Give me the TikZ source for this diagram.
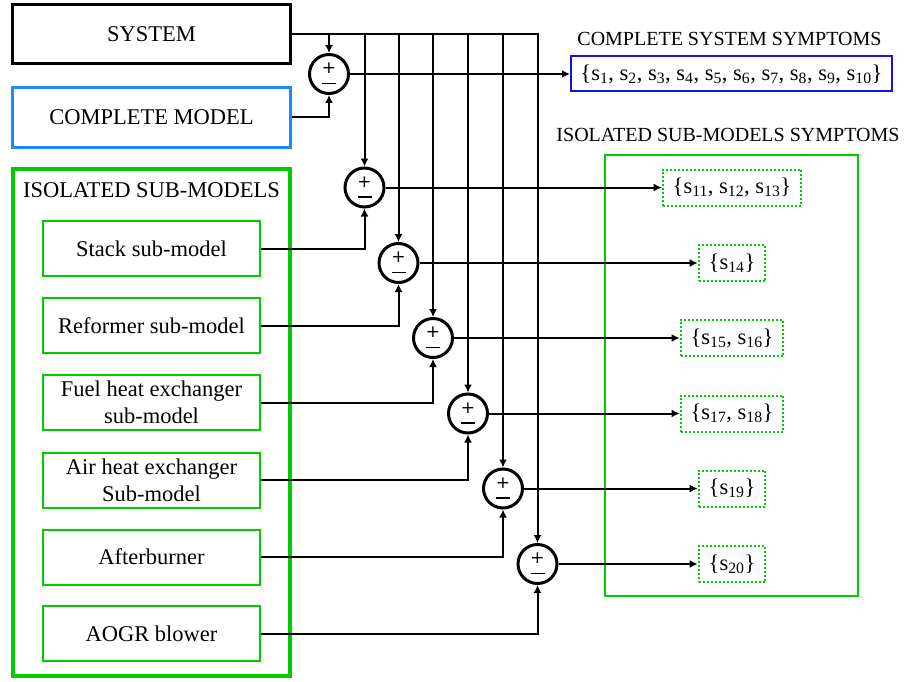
\documentclass[tikz,border=0pt]{standalone}
\usepackage{fontspec}
\setmainfont{Liberation Serif}
\newfontfamily\signfont{DejaVu Sans}
\usetikzlibrary{arrows.meta}
\definecolor{grn}{RGB}{0,204,0}
\definecolor{lblue}{RGB}{30,136,255}
\definecolor{dblue}{RGB}{20,20,225}
\tikzset{
  txt/.style={font=\fontsize{22.5}{27}\selectfont},
  ttl/.style={font=\fontsize{20}{24}\selectfont, inner sep=0pt},
  bigbox/.style={draw, rectangle, minimum width=278pt, minimum height=59pt, inner sep=0pt, txt},
  subbox/.style={draw=grn, line width=2pt, minimum width=217pt, minimum height=55pt, inner sep=0pt, align=center, txt},
  sumnode/.style={circle, draw, line width=3pt, minimum size=39pt, inner sep=0pt},
  sign/.style={inner sep=0pt, font=\signfont\fontsize{17}{17}\selectfont},
  minusbar/.style={line width=1.8pt},
  conn/.style={line width=2pt},
  arr/.style={conn, -{Latex[length=8pt,width=8pt]}},
  symbox/.style={draw=grn, line width=2pt, dash pattern=on 2pt off 2pt, minimum height=36pt, inner ysep=0pt, inner xsep=10pt, txt},
}
\newcommand{\sx}[1]{s\textsubscript{#1}}
\begin{document}
\begin{tikzpicture}[x=1pt,y=-1pt]
\useasboundingbox (0,0) rectangle (904,682);
% left column
\node[bigbox, line width=3.5pt] (sys) at (151.5,34) {SYSTEM};
\node[bigbox, draw=lblue, line width=3pt] (cm) at (151.5,117.5) {COMPLETE MODEL};
\node[draw=grn, line width=4pt, minimum width=277pt, minimum height=507pt, inner sep=0pt] (iso) at (151.5,422.5) {};
\node[txt, inner sep=0pt] (isot) at (151.5,190) {ISOLATED SUB-MODELS};
\node[subbox] (s1) at (151.5,248.5) {Stack sub-model};
\node[subbox] (s2) at (151.5,325.5) {Reformer sub-model};
\node[subbox] (s3) at (151.5,402.5) {Fuel heat exchanger\\sub-model};
\node[subbox] (s4) at (151.5,480) {Air heat exchanger\\Sub-model};
\node[subbox] (s5) at (151.5,557) {Afterburner};
\node[subbox] (s6) at (151.5,633.5) {AOGR blower};
% sum junctions
\foreach \i/\x/\y in {1/329/74, 2/364.5/187.5, 3/398.5/263, 4/433/338, 5/468/413.5, 6/503/488.5, 7/537.5/564} {
  \node[sumnode] (c\i) at (\x,\y) {};
  \node[sign] (p\i) at ([yshift=5.5pt]c\i.center) {+};
  \draw[minusbar] ([xshift=-7pt,yshift=-9.5pt]c\i.center) -- ([xshift=7pt,yshift=-9.5pt]c\i.center);
}
% right side
\node[ttl] (cst) at (729.5,38.5) {COMPLETE SYSTEM SYMPTOMS};
\node[draw=dblue, line width=2pt, minimum width=321pt, minimum height=35pt, inner sep=0pt, txt] (css) at (731.5,74)
  {\{\sx{1}, \sx{2}, \sx{3}, \sx{4}, \sx{5}, \sx{6}, \sx{7}, \sx{8}, \sx{9}, \sx{10}\}};
\node[ttl] (ist) at (728,135) {ISOLATED SUB-MODELS SYMPTOMS};
\node[draw=grn, line width=2pt, minimum width=253pt, minimum height=441pt, inner sep=0pt] (symb) at (731.5,375.5) {};
\node[symbox] (o1) at (732,187.5) {\{\sx{11}, \sx{12}, \sx{13}\}};
\node[symbox] (o2) at (732,263) {\{\sx{14}\}};
\node[symbox] (o3) at (732,338) {\{\sx{15}, \sx{16}\}};
\node[symbox] (o4) at (732,413.5) {\{\sx{17}, \sx{18}\}};
\node[symbox] (o5) at (732,488.5) {\{\sx{19}\}};
\node[symbox] (o6) at (732,564) {\{\sx{20}\}};
% connectors
\draw[arr] (sys.east) -- (sys.east -| c7.north) -- (c7.north);
\foreach \i in {1,...,6} {
  \draw[arr] (sys.east -| c\i.north) -- (c\i.north);
}
\draw[arr] (cm.east) -| (c1.south);
\draw[arr] (s1.east) -| (c2.south);
\draw[arr] (s2.east) -| (c3.south);
\draw[arr] (s3.east) -| (c4.south);
\draw[arr] (s4.east) -| (c5.south);
\draw[arr] (s5.east) -| (c6.south);
\draw[arr] (s6.east) -| (c7.south);
\draw[arr] (c1.east) -- (css.west);
\draw[arr] (c2.east) -- (o1.west);
\draw[arr] (c3.east) -- (o2.west);
\draw[arr] (c4.east) -- (o3.west);
\draw[arr] (c5.east) -- (o4.west);
\draw[arr] (c6.east) -- (o5.west);
\draw[arr] (c7.east) -- (o6.west);
\end{tikzpicture}
\end{document}
